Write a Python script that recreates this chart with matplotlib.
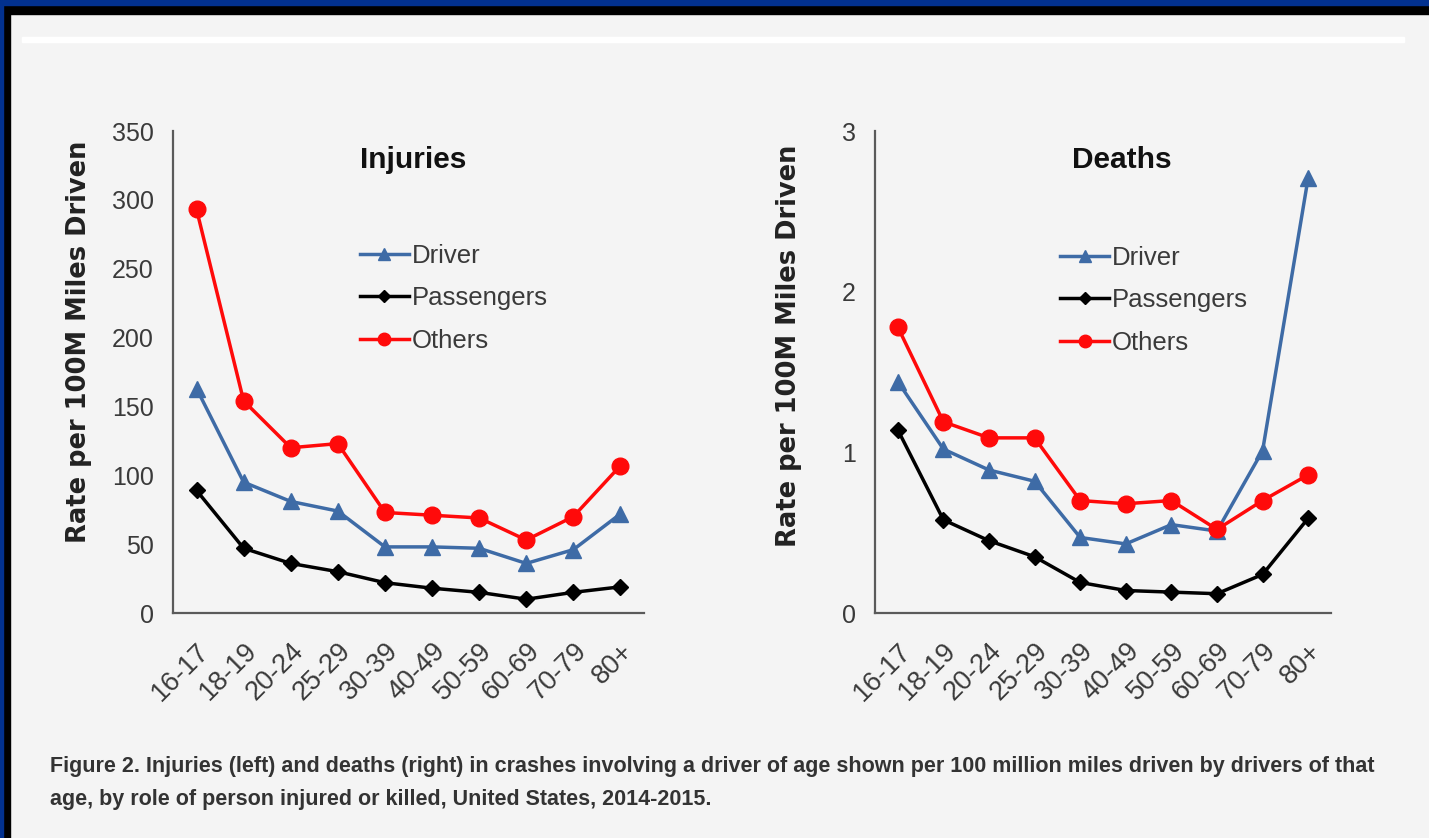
import matplotlib
matplotlib.use('Agg')
import matplotlib.pyplot as plt
from matplotlib import font_manager as fm
from matplotlib.patches import Rectangle
import matplotlib.transforms as mtransforms

# ---------------- data ----------------
ages = ['16-17', '18-19', '20-24', '25-29', '30-39', '40-49', '50-59', '60-69', '70-79', '80+']

inj_driver = [163, 95, 81, 74, 48, 48, 47, 36, 46, 72]
inj_passengers = [89, 47, 36, 30, 22, 18, 15, 10, 15, 19]
inj_others = [293, 154, 120, 123, 73, 71, 69, 53, 70, 107]

death_driver = [1.44, 1.02, 0.89, 0.82, 0.47, 0.43, 0.55, 0.51, 1.01, 2.71]
death_passengers = [1.14, 0.58, 0.45, 0.35, 0.19, 0.14, 0.13, 0.12, 0.24, 0.59]
death_others = [1.78, 1.19, 1.09, 1.09, 0.70, 0.68, 0.70, 0.52, 0.70, 0.86]

inj_ticks = [0, 50, 100, 150, 200, 250, 300, 350]
death_ticks = [0, 1, 2, 3]

series_names = ['Driver', 'Passengers', 'Others']
caption = ("Figure 2. Injuries (left) and deaths (right) in crashes involving a driver of age shown per 100 million miles driven by drivers of that\n"
           "age, by role of person injured or killed, United States, 2014-2015.")
ylabel = 'Rate per 100M Miles Driven'

# ---------------- style ----------------
names = {f.name for f in fm.fontManager.ttflist}
NARROW = 'Liberation Sans Narrow' if 'Liberation Sans Narrow' in names else 'Liberation Sans'

W, H = 1429, 838
BG = '#f4f4f4'
BLUE = '#3e6ba6'
RED = '#ff0a0a'
BLACK = '#000000'
SPINE = '#5a5a5a'
TXT = '#3a3a3a'

fig = plt.figure(figsize=(W / 100, H / 100), dpi=100, facecolor=BG)

def fx(x):
    return x / W

def fy(y):
    return 1 - y / H

# border decoration
fig.patches.append(Rectangle((0, fy(14)), 1, 14 / H, transform=fig.transFigure, color='black', zorder=0))
fig.patches.append(Rectangle((0, 0), 10 / W, 1, transform=fig.transFigure, color='black', zorder=0))
fig.patches.append(Rectangle((0, fy(5)), 1, 5 / H, transform=fig.transFigure, color='#02318f', zorder=1))
fig.patches.append(Rectangle((0, 0), 3 / W, 1, transform=fig.transFigure, color='#02318f', zorder=1))
fig.patches.append(Rectangle((fx(22), fy(42)), (1404 - 22) / W, 5 / H, transform=fig.transFigure, color='white', zorder=1))


def make_panel(rect, d, p, o, yticks, ylim, title, title_x, leg_xy, ylab_xy):
    ax = fig.add_axes(rect)
    ax.set_facecolor('none')
    x = list(range(len(ages)))
    ax.plot(x, d, color=BLUE, lw=2.5, marker='^', ms=12, label=series_names[0], zorder=3)
    ax.plot(x, p, color=BLACK, lw=2.5, marker='D', ms=8.5, label=series_names[1], zorder=3)
    ax.plot(x, o, color=RED, lw=2.5, marker='o', ms=12, label=series_names[2], zorder=4)
    ax.set_xlim(-0.5, len(ages) - 0.5)
    ax.set_ylim(*ylim)
    ax.set_yticks(yticks)
    ax.set_yticklabels([str(t) for t in yticks], fontfamily=NARROW, fontsize=18, color=TXT)
    ax.set_xticks(x)
    ax.set_xticklabels(ages, fontfamily=NARROW, fontsize=19.5, color=TXT,
                       rotation=45, ha='right', va='top', rotation_mode='anchor')
    off = mtransforms.ScaledTranslation(8 / 100, 0, fig.dpi_scale_trans)
    for lbl in ax.get_xticklabels():
        lbl.set_transform(lbl.get_transform() + off)
    ax.tick_params(length=0, pad=14)
    ax.tick_params(axis='x', pad=18)
    for s in ['top', 'right']:
        ax.spines[s].set_visible(False)
    for s in ['left', 'bottom']:
        ax.spines[s].set_color(SPINE)
        ax.spines[s].set_linewidth(1.6)
    ax.text(title_x, 0.94, title, transform=ax.transAxes, ha='left', va='center',
            fontfamily=NARROW, fontweight='bold', fontsize=21.5, color='#111111')
    leg = ax.legend(loc='upper left', bbox_to_anchor=leg_xy, frameon=False,
                    prop={'family': NARROW, 'size': 18.5}, handlelength=1.9,
                    handletextpad=0.1, labelspacing=0.72, borderaxespad=0, borderpad=0,
                    markerscale=0.75)
    for t in leg.get_texts():
        t.set_color(TXT)
    ax.set_ylabel(ylabel, fontfamily='DejaVu Sans', fontweight='bold', fontsize=18.5, color='#222222')
    ax.yaxis.set_label_coords(*ylab_xy)
    return ax

ax1 = make_panel([fx(173), fy(613), (644 - 173) / W, (613 - 131) / H],
                 inj_driver, inj_passengers, inj_others, inj_ticks, (0, 350),
                 'Injuries', 0.397, (0.397, 0.766), (-0.172, 0.562))
ax2 = make_panel([fx(875), fy(613), (1331 - 875) / W, (613 - 131) / H],
                 death_driver, death_passengers, death_others, death_ticks, (0, 3),
                 'Deaths', 0.432, (0.406, 0.762), (-0.16, 0.555))

cap = fig.text(fx(50), fy(783), caption, ha='left', va='center', fontfamily=NARROW,
               fontweight='bold', fontsize=16, color='#333333', linespacing=1.8)

# fit caption width to the reference (~1320 px for the first line)
fig.canvas.draw()
r = fig.canvas.get_renderer()
wpx = cap.get_window_extent(r).width
cap.set_fontsize(16 * 1320 / wpx)

fig.savefig('out.png', dpi=100, facecolor=BG)
